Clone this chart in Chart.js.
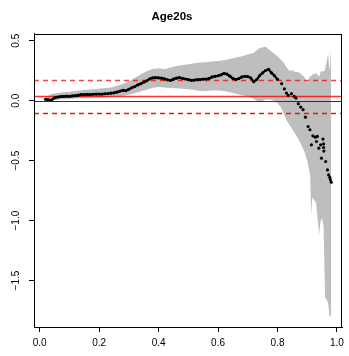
<!DOCTYPE html>
<html>
<head>
<meta charset="utf-8">
<title>Age20s</title>
<script src="https://cdn.jsdelivr.net/npm/chart.js@4.4.0/dist/chart.umd.min.js"></script>
<style>
  html, body { margin: 0; padding: 0; background: #fff; }
  #chart { display: block; }
</style>
</head>
<body>
<canvas id="chart" width="349" height="356"></canvas>
<script>
// estimate, dense part (close enough that the dots run together)
const denseX = [
  0.02, 0.03, 0.04, 0.05, 0.06, 0.07, 0.08, 0.09, 0.10, 0.11,
  0.12, 0.13, 0.14, 0.15, 0.16, 0.17, 0.18, 0.19, 0.20, 0.21,
  0.22, 0.23, 0.24, 0.25, 0.26, 0.27, 0.28, 0.29, 0.30, 0.31,
  0.32, 0.33, 0.34, 0.35, 0.36, 0.37, 0.38, 0.39, 0.40, 0.41,
  0.42, 0.43, 0.44, 0.45, 0.46, 0.47, 0.48, 0.49, 0.50, 0.51,
  0.52, 0.53, 0.54, 0.55, 0.56, 0.57, 0.58, 0.59, 0.60, 0.61,
  0.62, 0.63, 0.64, 0.65, 0.66, 0.67, 0.68, 0.69, 0.70, 0.71,
  0.72, 0.73, 0.74, 0.75, 0.76, 0.77, 0.78, 0.79, 0.80
];
const denseY = [
  0.012, 0.008, 0.006, 0.024, 0.030, 0.034, 0.036, 0.038, 0.037, 0.040,
  0.042, 0.046, 0.050, 0.050, 0.053, 0.051, 0.054, 0.055, 0.056, 0.055,
  0.058, 0.060, 0.063, 0.066, 0.072, 0.080, 0.086, 0.084, 0.095, 0.108,
  0.118, 0.132, 0.142, 0.155, 0.166, 0.182, 0.190, 0.192, 0.190, 0.188,
  0.182, 0.174, 0.170, 0.180, 0.188, 0.192, 0.186, 0.181, 0.176, 0.170,
  0.172, 0.176, 0.177, 0.180, 0.181, 0.186, 0.198, 0.203, 0.208, 0.215,
  0.228, 0.222, 0.205, 0.186, 0.177, 0.185, 0.198, 0.203, 0.201, 0.190,
  0.158, 0.176, 0.210, 0.232, 0.252, 0.262, 0.232, 0.208, 0.178
];

// estimate, sparse tail
const tailX = [
  0.814, 0.823, 0.830, 0.836, 0.847, 0.856, 0.862, 0.870, 0.878, 0.886,
  0.894, 0.903, 0.909, 0.914, 0.919, 0.927, 0.931, 0.934, 0.939, 0.945,
  0.948, 0.953, 0.955, 0.955, 0.956, 0.962, 0.968, 0.972, 0.976, 0.978,
  0.981
];
const tailY = [
  0.142, 0.098, 0.064, 0.045, 0.059, 0.036, 0.022, -0.025, -0.053, -0.075,
  -0.137, -0.215, -0.242, -0.368, -0.293, -0.304, -0.340, -0.298, -0.396, -0.368,
  -0.479, -0.320, -0.360, -0.390, -0.420, -0.507, -0.577, -0.619, -0.640, -0.660,
  -0.680
];

// pointwise band around the estimate
const bandX = [
  0.02, 0.04, 0.06, 0.08, 0.10, 0.12, 0.14, 0.16, 0.18, 0.20,
  0.22, 0.24, 0.26, 0.28, 0.30, 0.32, 0.34, 0.36, 0.38, 0.40,
  0.42, 0.44, 0.46, 0.48, 0.50, 0.52, 0.54, 0.56, 0.58, 0.60,
  0.62, 0.64, 0.66, 0.68, 0.70, 0.72, 0.74, 0.76, 0.78, 0.80,
  0.81, 0.82, 0.83, 0.84, 0.85, 0.86, 0.87, 0.88, 0.89, 0.90,
  0.91, 0.913, 0.917, 0.92, 0.93, 0.94, 0.945, 0.95, 0.955, 0.96,
  0.97, 0.975, 0.98
];
const bandUpper = [
  0.030, 0.055, 0.065, 0.070, 0.075, 0.080, 0.088, 0.092, 0.095, 0.100,
  0.105, 0.110, 0.125, 0.140, 0.160, 0.190, 0.220, 0.245, 0.265, 0.270,
  0.262, 0.278, 0.290, 0.298, 0.305, 0.312, 0.318, 0.320, 0.328, 0.332,
  0.338, 0.348, 0.360, 0.370, 0.385, 0.400, 0.440, 0.450, 0.410, 0.370,
  0.345, 0.320, 0.280, 0.250, 0.255, 0.240, 0.240, 0.220, 0.200, 0.150,
  0.210, 0.200, 0.220, 0.220, 0.230, 0.200, 0.240, 0.250, 0.240, 0.260,
  0.390, 0.250, 0.430
];
const bandLower = [
  -0.010, -0.002, 0.008, 0.012, 0.015, 0.018, 0.020, 0.022, 0.024, 0.025,
  0.027, 0.030, 0.033, 0.040, 0.050, 0.062, 0.078, 0.092, 0.108, 0.115,
  0.110, 0.106, 0.104, 0.100, 0.095, 0.090, 0.082, 0.080, 0.086, 0.086,
  0.080, 0.070, 0.058, 0.045, 0.036, 0.015, -0.015, 0.010, 0.005, -0.020,
  -0.050, -0.100, -0.160, -0.200, -0.240, -0.280, -0.320, -0.370, -0.420, -0.500,
  -0.620, -0.950, -0.800, -0.820, -0.850, -1.120, -1.000, -0.980, -1.050, -1.640,
  -1.680, -1.800, -1.800
];

// horizontal reference levels
const levelZero = 0;
const levelMean = 0.036;
const levelHigh = 0.176;
const levelLow = -0.103;

const xTicks = [0, 0.2, 0.4, 0.6, 0.8, 1.0];
const yTicks = [-1.5, -1.0, -0.5, 0, 0.5];

const toPoints = (xs, ys) => xs.map((x, i) => ({ x: x, y: ys[i] }));
const fontFamily = '"Liberation Sans", Arial, Helvetica, sans-serif';
const rMinus = v => v.toFixed(1).replace('-', '\u2212');

const levels = [
  { value: levelZero, color: '#333333', dash: [], width: 1 },
  { value: levelMean, color: 'rgba(255,0,0,0.8)', dash: [], width: 1.6 },
  { value: levelHigh, color: 'rgba(255,0,0,0.75)', dash: [5, 4], width: 1.6 },
  { value: levelLow, color: '#e81818', dash: [5, 4], width: 1.6 }
];

// lines go on after the band is filled, under the dots
const levelLines = {
  id: 'levelLines',
  afterDatasetDraw(chart, args) {
    if (args.index !== 0) return;
    const { ctx, chartArea } = chart;
    const yScale = chart.scales.y;
    ctx.save();
    ctx.beginPath();
    ctx.rect(chartArea.left, chartArea.top, chartArea.width, chartArea.height);
    ctx.clip();
    levels.forEach(l => {
      const y = Math.round(yScale.getPixelForValue(l.value)) + 0.5;
      ctx.beginPath();
      ctx.setLineDash(l.dash);
      ctx.strokeStyle = l.color;
      ctx.lineWidth = l.width;
      ctx.moveTo(chartArea.left, y);
      ctx.lineTo(chartArea.right, y);
      ctx.stroke();
    });
    ctx.restore();
  }
};

// box round the plot region
const plotBox = {
  id: 'plotBox',
  afterDraw(chart) {
    const { ctx, chartArea } = chart;
    ctx.save();
    ctx.strokeStyle = '#000';
    ctx.lineWidth = 1;
    ctx.strokeRect(Math.round(chartArea.left) + 0.5, Math.round(chartArea.top) + 0.5,
      Math.round(chartArea.width) - 1, Math.round(chartArea.height));
    ctx.restore();
  }
};

new Chart(document.getElementById('chart'), {
  type: 'line',
  data: {
    datasets: [
      {
        label: 'upper',
        data: toPoints(bandX, bandUpper),
        borderWidth: 0,
        pointRadius: 0,
        backgroundColor: '#bebebe',
        fill: '+1',
        tension: 0,
        order: 10
      },
      {
        label: 'lower',
        data: toPoints(bandX, bandLower),
        borderWidth: 0,
        pointRadius: 0,
        fill: false,
        order: 10
      },
      {
        label: 'estimate',
        data: toPoints(denseX, denseY),
        borderColor: '#000',
        borderWidth: 2.2,
        pointRadius: 1.6,
        pointBorderWidth: 0,
        pointBackgroundColor: '#000',
        fill: false,
        order: 1
      },
      {
        label: 'tail',
        data: toPoints(tailX, tailY),
        showLine: false,
        pointRadius: 1.6,
        pointBorderWidth: 0,
        pointBackgroundColor: '#000',
        order: 0
      }
    ]
  },
  options: {
    responsive: false,
    animation: false,
    devicePixelRatio: 1,
    layout: { padding: { left: 0, right: 5, top: 0, bottom: 0 } },
    plugins: {
      legend: { display: false },
      tooltip: { enabled: false },
      title: {
        display: true,
        text: 'Age20s',
        color: '#000',
        font: { family: fontFamily, size: 11.5, weight: 'bold' },
        padding: { top: 10, bottom: 10 }
      }
    },
    scales: {
      x: {
        type: 'linear',
        min: -0.019,
        max: 1.017,
        afterFit: s => { s.height = 29; },
        afterBuildTicks: a => { a.ticks = xTicks.map(v => ({ value: v })); },
        grid: { display: true, drawOnChartArea: false, drawTicks: true, tickLength: 5, color: '#000' },
        border: { display: true, color: '#000' },
        ticks: {
          color: '#000',
          font: { family: fontFamily, size: 10 },
          padding: 5,
          maxRotation: 0,
          autoSkip: false,
          callback: v => v.toFixed(1)
        }
      },
      y: {
        type: 'linear',
        min: -1.887,
        max: 0.558,
        afterFit: s => { s.width = 34; },
        afterBuildTicks: a => { a.ticks = yTicks.map(v => ({ value: v })); },
        grid: { display: true, drawOnChartArea: false, drawTicks: true, tickLength: 5, color: '#000' },
        border: { display: true, color: '#000' },
        ticks: {
          color: '#000',
          font: { family: fontFamily, size: 10 },
          padding: 2.5,
          minRotation: 90,
          maxRotation: 90,
          crossAlign: 'center',
          autoSkip: false,
          callback: v => rMinus(v)
        }
      }
    }
  },
  plugins: [levelLines, plotBox]
});
</script>
</body>
</html>
